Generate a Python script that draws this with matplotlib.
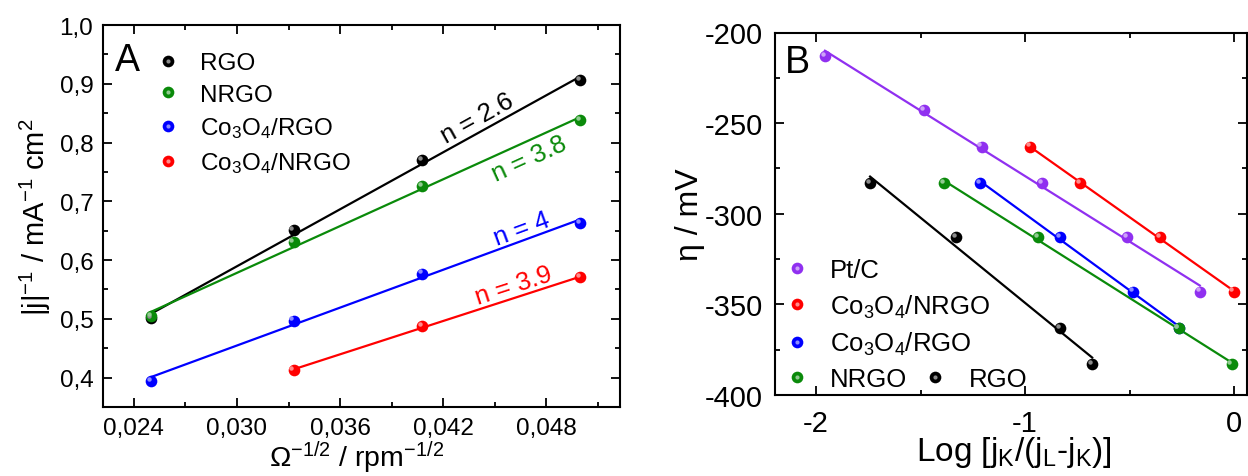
import numpy as np
import matplotlib
matplotlib.use('Agg')
import matplotlib.pyplot as plt
from matplotlib.ticker import MultipleLocator, FuncFormatter
from matplotlib.lines import Line2D
from matplotlib.colors import to_rgb
from matplotlib.legend_handler import HandlerTuple
import matplotlib.transforms as mtransforms

plt.rcParams['font.family'] = ['Liberation Sans', 'DejaVu Sans']
plt.rcParams['mathtext.fontset'] = 'custom'
plt.rcParams['mathtext.rm'] = 'Liberation Sans'
plt.rcParams['mathtext.it'] = 'Liberation Sans:italic'
plt.rcParams['mathtext.bf'] = 'Liberation Sans:bold'
plt.rcParams['axes.unicode_minus'] = False

# ---------------- Panel A data (Koutecky-Levich) ----------------
omega_x = [0.025, 0.0333, 0.0408, 0.05]
rgo_A = [0.501, 0.651, 0.770, 0.906]
nrgo_A = [0.505, 0.630, 0.726, 0.838]
co_rgo_A = [0.394, 0.497, 0.577, 0.663]
co_nrgo_x = [0.0333, 0.0408, 0.05]
co_nrgo_A = [0.413, 0.487, 0.571]
labels_A = ['RGO', 'NRGO', 'Co$_3$O$_4$/RGO', 'Co$_3$O$_4$/NRGO']
n_labels = ['n = 2.6', 'n = 3.8', 'n = 4', 'n = 3.9']
n_label_pos = [(0.0440, 0.843), (0.0470, 0.773), (0.0466, 0.653), (0.0461, 0.557)]

# ---------------- Panel B data (Tafel) ----------------
pt_x = [-1.958, -1.482, -1.208, -0.919, -0.510, -0.164]
pt_y = [-213, -243, -263, -283, -313, -343]
conrgo_x = [-0.977, -0.737, -0.352, -0.002]
conrgo_y = [-263, -283, -313, -343]
corgo_x = [-1.214, -0.833, -0.483, -0.265]
corgo_y = [-283, -313, -343, -363]
nrgo_x = [-1.386, -0.939, -0.265, -0.012]
nrgo_y = [-283, -313, -363, -383]
rgo_x = [-1.742, -1.329, -0.833, -0.679]
rgo_y = [-283, -313, -363, -383]
labels_B = ['Pt/C', 'Co$_3$O$_4$/NRGO', 'Co$_3$O$_4$/RGO', 'NRGO', 'RGO']

C_BLACK = '#000000'
C_GREEN = '#0a8a0a'
C_BLUE = '#0000ff'
C_RED = '#ff0000'
C_PURPLE = '#9030f0'

fig = plt.figure(figsize=(12.48, 4.77), dpi=100)
W, H = 1248, 477
axA = fig.add_axes([103 / W, 1 - 408 / H, (620 - 103) / W, (408 - 26) / H])
axB = fig.add_axes([775 / W, 1 - 396 / H, (1247 - 775) / W, (396 - 33.5) / H])

MS = 8.4


def lighten(c, f=0.6):
    r, g, b = to_rgb(c)
    return (r + (1 - r) * f, g + (1 - g) * f, b + (1 - b) * f)


def ball(ax, x, y, color):
    base, = ax.plot(x, y, 'o', ms=MS, color=color, mew=0, zorder=5)
    off = mtransforms.ScaledTranslation(-1.6 / 72, 1.6 / 72, fig.dpi_scale_trans)
    ax.plot(x, y, 'o', ms=3.2, color=lighten(color, 0.55), mew=0, zorder=6,
            transform=ax.transData + off)
    hl = Line2D([], [], marker='o', ls='', ms=3.0, color=lighten(color, 0.55), mew=0)
    return (base, hl)


def fitline(ax, x, y, color):
    p = np.polyfit(x, y, 1)
    xx = np.array([min(x), max(x)])
    ax.plot(xx, np.polyval(p, xx), '-', color=color, lw=1.6, zorder=3)
    return xx, np.polyval(p, xx)


def style(ax, fs):
    for s in ax.spines.values():
        s.set_linewidth(1.5)
    ax.tick_params(which='both', direction='in', top=True, right=True, width=1.3, labelsize=fs)
    ax.tick_params(which='major', length=6.5)
    ax.tick_params(which='minor', length=3.6)


# ---------------- Panel A ----------------
axA.set_xlim(0.0222, 0.0523)
axA.set_ylim(0.35, 1.0)
seriesA = [(omega_x, rgo_A, C_BLACK), (omega_x, nrgo_A, C_GREEN),
           (omega_x, co_rgo_A, C_BLUE), (co_nrgo_x, co_nrgo_A, C_RED)]
handlesA = []
lines_A = []
for (x, y, c) in seriesA:
    lines_A.append(fitline(axA, x, y, c))
    handlesA.append(ball(axA, x, y, c))

style(axA, 17.5)
axA.xaxis.set_major_locator(MultipleLocator(0.006))
axA.xaxis.set_minor_locator(MultipleLocator(0.003))
axA.yaxis.set_major_locator(MultipleLocator(0.1))
axA.yaxis.set_minor_locator(MultipleLocator(0.05))
axA.xaxis.set_major_formatter(FuncFormatter(lambda v, p: f'{v:.3f}'.replace('.', ',')))
axA.yaxis.set_major_formatter(FuncFormatter(lambda v, p: f'{v:.1f}'.replace('.', ',')))
axA.tick_params(axis='x', pad=7)
axA.tick_params(axis='y', pad=7)
axA.set_xlabel('$\\Omega^{-1/2}$ / rpm$^{-1/2}$', fontsize=20.5)
axA.xaxis.set_label_coords(0.49, -0.083)
axA.set_ylabel('|j|$^{-1}$ / mA$^{-1}$ cm$^{2}$', fontsize=21)
axA.yaxis.set_label_coords(-0.096, 0.5)
axA.text(0.048, 0.908, 'A', transform=axA.transAxes, fontsize=27, ha='center', va='center')

for (xx, yy), (_, _, c), txt, pos in zip(lines_A, seriesA, n_labels, n_label_pos):
    pts = axA.transData.transform(np.column_stack([xx, yy]))
    ang = np.degrees(np.arctan2(pts[1, 1] - pts[0, 1], pts[1, 0] - pts[0, 0]))
    axA.text(pos[0], pos[1], txt, color=c, fontsize=18.5, rotation=ang,
             rotation_mode='anchor', ha='center', va='center')

legA = axA.legend(handlesA, labels_A, loc='upper left', bbox_to_anchor=(0.1025, 0.929),
                  frameon=False, fontsize=17.5, handlelength=1.0, handletextpad=0.8,
                  borderpad=0, borderaxespad=0, labelspacing=0.40,
                  handler_map={tuple: HandlerTuple(ndivide=1)})

# ---------------- Panel B ----------------
axB.set_xlim(-2.197, 0.062)
axB.set_ylim(-400, -200)
seriesB = [(pt_x, pt_y, C_PURPLE), (conrgo_x, conrgo_y, C_RED), (corgo_x, corgo_y, C_BLUE),
           (nrgo_x, nrgo_y, C_GREEN), (rgo_x, rgo_y, C_BLACK)]
handlesB = []
for (x, y, c) in seriesB:
    fitline(axB, x, y, c)
    handlesB.append(ball(axB, x, y, c))

style(axB, 21)
axB.xaxis.set_major_locator(MultipleLocator(1))
axB.xaxis.set_minor_locator(MultipleLocator(0.5))
axB.yaxis.set_major_locator(MultipleLocator(50))
axB.yaxis.set_minor_locator(MultipleLocator(25))
axB.xaxis.set_major_formatter(FuncFormatter(lambda v, p: f'{v:.0f}'))
axB.yaxis.set_major_formatter(FuncFormatter(lambda v, p: f'{v:.0f}'))
axB.tick_params(axis='x', pad=10)
axB.tick_params(axis='y', pad=9)
axB.set_xlabel('Log [j$_\\mathrm{K}$/(j$_\\mathrm{L}$-j$_\\mathrm{K}$)]', fontsize=24)
axB.xaxis.set_label_coords(0.507, -0.108)
axB.set_ylabel('η / mV', fontsize=23)
axB.yaxis.set_label_coords(-0.148, 0.5)
axB.text(0.047, 0.918, 'B', transform=axB.transAxes, fontsize=27, ha='center', va='center')

legB1 = axB.legend(handlesB[:4], labels_B[:4], loc='lower left', bbox_to_anchor=(0.019, 0.01),
                   frameon=False, fontsize=18.5, handlelength=1.0, handletextpad=0.8,
                   borderpad=0, borderaxespad=0, labelspacing=0.40,
                   handler_map={tuple: HandlerTuple(ndivide=1)})
axB.add_artist(legB1)
legB2 = axB.legend(handlesB[4:], labels_B[4:], loc='lower left', bbox_to_anchor=(0.312, 0.01),
                   frameon=False, fontsize=18.5, handlelength=1.0, handletextpad=0.8,
                   borderpad=0, borderaxespad=0,
                   handler_map={tuple: HandlerTuple(ndivide=1)})

fig.savefig('out.png', dpi=100)
